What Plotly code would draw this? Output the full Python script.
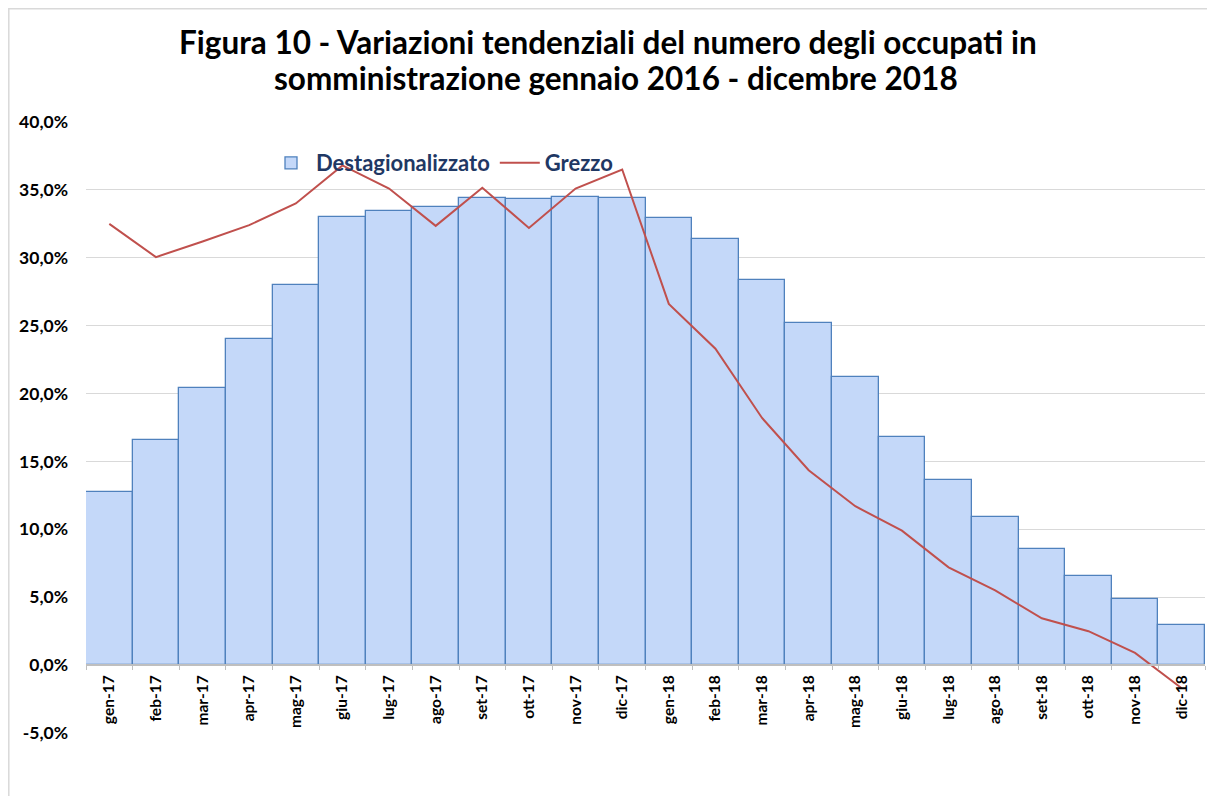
import plotly.graph_objects as go

months = ["gen-17", "feb-17", "mar-17", "apr-17", "mag-17", "giu-17", "lug-17", "ago-17",
          "set-17", "ott-17", "nov-17", "dic-17", "gen-18", "feb-18", "mar-18", "apr-18",
          "mag-18", "giu-18", "lug-18", "ago-18", "set-18", "ott-18", "nov-18", "dic-18"]
destagionalizzato = [12.75, 16.6, 20.4, 24.0, 28.0, 33.0, 33.45, 33.75, 34.4, 34.3, 34.5, 34.4,
                     32.95, 31.4, 28.4, 25.2, 21.2, 16.8, 13.6, 10.9, 8.55, 6.6, 4.9, 2.95]
grezzo = [32.5, 30.05, 31.2, 32.4, 34.0, 36.8, 35.1, 32.35, 35.15, 32.2, 35.1, 36.5,
          26.6, 23.3, 18.2, 14.35, 11.7, 9.9, 7.2, 5.5, 3.45, 2.5, 0.9, -1.7]
y_ticks = [-5, 0, 5, 10, 15, 20, 25, 30, 35, 40]
y_tick_labels = ["-5,0%", "0,0%", "5,0%", "10,0%", "15,0%", "20,0%", "25,0%", "30,0%", "35,0%", "40,0%"]
title_lines = ["Figura 10 - Variazioni tendenziali del numero degli occupati in",
               "somministrazione gennaio 2016 - dicembre 2018"]

FONT = "Lato"
W, H = 1215, 796
ml, mr, mt, mb = 78, 18, 114, 71
pw = W - ml - mr
ph = H - mt - mb
y_min, y_max = -5, 40
zero_pos = (0 - y_min) / (y_max - y_min)


def px_x(fx):
    return (fx - ml) / pw


def px_y(fy):
    return (H - mb - fy) / ph


fig = go.Figure()
fig.add_trace(go.Bar(
    x=months, y=destagionalizzato, name="Destagionalizzato",
    marker=dict(color="#c4d8f9", line=dict(color="#4f81bd", width=1.3)),
))
fig.add_trace(go.Scatter(
    x=months, y=grezzo, name="Grezzo", mode="lines",
    line=dict(color="#c0504d", width=2),
))

# chart frame
fig.add_shape(type="rect", xref="paper", yref="paper",
              x0=px_x(0.8), x1=px_x(1300), y0=px_y(900), y1=px_y(0.8),
              line=dict(color="#d9d9d9", width=1.5), fillcolor="rgba(0,0,0,0)", layer="below")

for txt, fx, fy in zip(title_lines, [599.5, 608], [34, 70]):
    fig.add_annotation(text=txt, xref="paper", yref="paper", x=px_x(fx), y=px_y(fy),
                       xanchor="center", yanchor="middle", showarrow=False,
                       font=dict(family=FONT, size=31.5, color="#000000", weight="bold"))

fig.update_layout(
    width=W, height=H,
    margin=dict(l=ml, r=mr, t=mt, b=mb),
    paper_bgcolor="white", plot_bgcolor="white",
    separators=",.",
    bargap=0,
    font=dict(family=FONT, color="#000000"),
    legend=dict(
        orientation="h", x=px_x(258), xanchor="left", y=px_y(155), yanchor="middle",
        font=dict(family=FONT, size=22, color="#1f3864", weight="bold"),
        bgcolor="rgba(0,0,0,0)", itemwidth=40,
    ),
    xaxis=dict(
        type="category", anchor="free", position=zero_pos,
        tickangle=-90, tickson="boundaries", ticks="outside", ticklen=4, tickcolor="#bfbfbf",
        showline=True, linecolor="#bfbfbf", linewidth=2, ticklabelstandoff=3,
        tickfont=dict(family=FONT, size=15.5, color="#000000", weight="bold"),
        showgrid=False, automargin=False,
    ),
    yaxis=dict(
        range=[y_min, y_max], tickvals=y_ticks, ticktext=y_tick_labels,
        showgrid=True, gridcolor="#d9d9d9", gridwidth=1.3, zeroline=False,
        tickfont=dict(family=FONT, size=17.5, color="#000000", weight="bold"),
        ticks="", showline=False, ticklabelstandoff=17, automargin=False,
    ),
)

fig.write_html("out.html")
